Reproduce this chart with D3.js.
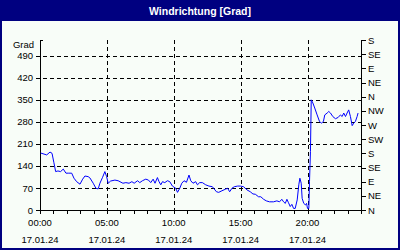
<!DOCTYPE html>
<meta charset="utf-8">
<script src="https://d3js.org/d3.v7.min.js"></script>
<style>
  body { margin: 0; background: #ffffff; }
  svg { display: block; font-family: "Liberation Sans", Arial, sans-serif; }
</style>
<body>
<script>

// time in hours since 00:00, wind direction in degrees
var hours = [0.05, 0.5, 0.75, 0.9, 1.04, 1.17, 1.34, 1.54, 1.74, 1.94, 2.11, 2.37, 2.54, 2.74, 2.99,
  3.19, 3.36, 3.6, 3.73, 3.98, 4.18, 4.35, 4.48, 4.68, 4.85, 4.98, 5.1, 5.28, 5.6, 5.84, 6.2, 6.42,
  6.66, 6.87, 7.04, 7.29, 7.46, 7.66, 7.91, 8.11, 8.28, 8.46, 8.6, 8.78, 8.9, 9.03, 9.16, 9.33,
  9.53, 9.7, 9.9, 10.15, 10.28, 10.45, 10.6, 10.77, 10.95, 11.14, 11.27, 11.44, 11.64, 11.77,
  11.94, 12.14, 12.39, 12.63, 12.89, 13.19, 13.36, 13.6, 13.86, 14.03, 14.18, 14.35, 14.53, 14.78,
  14.98, 15.22, 15.47, 15.72, 15.92, 16.1, 16.34, 16.51, 16.72, 16.92, 17.16, 17.46, 17.71, 17.91,
  18.08, 18.21, 18.34, 18.46, 18.58, 18.71, 18.83, 18.96, 19.08, 19.23, 19.35, 19.43, 19.53, 19.6,
  19.72, 19.85, 19.93, 20.0, 20.1, 20.15, 20.22, 20.28, 20.4, 20.54, 20.72, 20.9, 21.04, 21.19,
  21.29, 21.47, 21.59, 21.72, 21.89, 22.09, 22.29, 22.46, 22.59, 22.71, 22.84, 22.96, 23.08,
  23.21, 23.34, 23.46, 23.58, 23.71, 23.78];
var degrees = [181, 175, 184, 180, 150, 122, 124, 122, 130, 117, 117, 117, 101, 90, 82,
  98, 108, 106, 102, 85, 69, 67, 85, 104, 122, 106, 85, 92, 95, 93, 85, 87,
  85, 90, 85, 93, 87, 93, 98, 95, 87, 98, 85, 103, 90, 80, 90, 87,
  93, 90, 76, 69, 56, 69, 85, 93, 88, 111, 93, 85, 90, 80,
  87, 87, 80, 76, 74, 58, 56, 61, 66, 69, 58, 69, 74, 76,
  76, 74, 64, 58, 51, 50, 42, 42, 34, 29, 26, 26, 29, 26,
  34, 26, 21, 34, 23, 11, 18, 5, 5, 32, 80, 101, 85, 37,
  21, 16, 21, 5, 5, 90, 186, 350, 340, 324, 302, 281, 276, 281,
  302, 308, 313, 308, 297, 290, 294, 302, 297, 308, 297, 308, 318,
  297, 268, 276, 281, 297, 308];

var leftTicks = [0, 70, 140, 210, 280, 350, 420, 490];
var rightTicks = [0, 45, 90, 135, 180, 225, 270, 315, 360, 405, 450, 495, 540];
var rightLabels = ["N", "NE", "E", "SE", "S", "SW", "W", "NW", "N", "NE", "E", "SE", "S"];
var xTicks = [0, 5, 10, 15, 20];
var xTickLabels = ["00:00", "05:00", "10:00", "15:00", "20:00"];
var dateLabel = "17.01.24";
var title = "Windrichtung [Grad]";
var unit = "Grad";

var width = 400, height = 250;
var plotLeft = 40, plotRight = 361, plotTop = 40, plotBottom = 210;

var svg = d3.select("body").append("svg")
    .attr("width", width)
    .attr("height", height);

// frame and title bar
svg.append("rect")
    .attr("x", 1).attr("y", 1)
    .attr("width", width - 2).attr("height", height - 2)
    .style("fill", "#f8fdf8")
    .style("stroke", "#000080")
    .style("stroke-width", 2);
svg.append("rect")
    .attr("x", 0).attr("y", 0)
    .attr("width", width).attr("height", 21)
    .style("fill", "#000080");
svg.append("text")
    .attr("x", width / 2).attr("y", 14.5)
    .attr("text-anchor", "middle")
    .style("fill", "#ffffff")
    .style("font-weight", "bold")
    .style("font-size", "10.5px")
    .text(title);

var x = d3.scaleLinear().domain([0, 24]).range([plotLeft, plotRight]);
var y = d3.scaleLinear().domain([0, 540]).range([plotBottom, plotTop]);

// dashed grid
svg.append("g").selectAll("line")
    .data(leftTicks.filter(function(d) { return d > 0; }))
    .enter().append("line")
    .attr("x1", plotLeft - 4).attr("x2", plotRight)
    .attr("y1", function(d) { return Math.round(y(d)) + 0.5; })
    .attr("y2", function(d) { return Math.round(y(d)) + 0.5; })
    .style("stroke", "#000")
    .style("stroke-dasharray", "4,3")
    .style("shape-rendering", "crispEdges");
svg.append("g").selectAll("line")
    .data(xTicks.filter(function(d) { return d > 0; }))
    .enter().append("line")
    .attr("x1", function(d) { return Math.round(x(d)) + 0.5; })
    .attr("x2", function(d) { return Math.round(x(d)) + 0.5; })
    .attr("y1", plotTop).attr("y2", plotBottom)
    .style("stroke", "#000")
    .style("stroke-dasharray", "4,3")
    .style("shape-rendering", "crispEdges");

// axes
var yLeft = d3.axisLeft(y).tickValues(leftTicks).tickSize(4).tickPadding(3);
var yRight = d3.axisRight(y).tickValues(rightTicks).tickSize(5).tickPadding(2)
    .tickFormat(function(d, i) { return rightLabels[i]; });
var xBottom = d3.axisBottom(x).tickValues(d3.range(0, 25)).tickSize(4).tickFormat("");

var gl = svg.append("g").attr("transform", "translate(" + plotLeft + ",0)").call(yLeft);
var gr = svg.append("g").attr("transform", "translate(" + plotRight + ",0)").call(yRight);
var gb = svg.append("g").attr("transform", "translate(0," + plotBottom + ")").call(xBottom);

[gl, gr, gb].forEach(function(g) {
  g.selectAll(".domain").remove();
  g.selectAll("line").style("stroke", "#000").style("shape-rendering", "crispEdges");
  g.selectAll("text").style("font-size", "9.5px").style("fill", "#000")
      .style("font-family", "'Liberation Sans', Arial, sans-serif");
});

// axis lines
svg.append("line").attr("x1", plotLeft + 0.5).attr("x2", plotLeft + 0.5)
    .attr("y1", plotTop).attr("y2", plotBottom + 1)
    .style("stroke", "#000").style("shape-rendering", "crispEdges");
svg.append("line").attr("x1", plotRight + 0.5).attr("x2", plotRight + 0.5)
    .attr("y1", plotTop).attr("y2", plotBottom + 1)
    .style("stroke", "#000").style("shape-rendering", "crispEdges");
svg.append("line").attr("x1", plotLeft).attr("x2", plotRight + 1)
    .attr("y1", plotBottom + 0.5).attr("y2", plotBottom + 0.5)
    .style("stroke", "#000").style("shape-rendering", "crispEdges");
svg.append("line").attr("x1", plotLeft).attr("x2", plotLeft + 3)
    .attr("y1", plotTop + 0.5).attr("y2", plotTop + 0.5)
    .style("stroke", "#000").style("shape-rendering", "crispEdges");

// unit label
svg.append("text")
    .attr("x", 34).attr("y", 48)
    .attr("text-anchor", "end")
    .style("font-size", "9.5px")
    .text(unit);

// time and date labels
var lab = svg.append("g").selectAll("g")
    .data(xTicks)
    .enter().append("g")
    .attr("transform", function(d) { return "translate(" + x(d) + ",0)"; });
lab.append("text")
    .attr("y", 226)
    .attr("text-anchor", "middle")
    .style("font-size", "9.5px")
    .text(function(d, i) { return xTickLabels[i]; });
lab.append("text")
    .attr("y", 243)
    .attr("text-anchor", "middle")
    .style("font-size", "9.5px")
    .text(dateLabel);

// the series
var line = d3.line()
    .x(function(d, i) { return x(hours[i]); })
    .y(function(d) { return y(d); });

svg.append("path")
    .datum(degrees)
    .attr("d", line)
    .style("fill", "none")
    .style("stroke", "#0000ff")
    .style("stroke-width", 1);

</script>
</body>
